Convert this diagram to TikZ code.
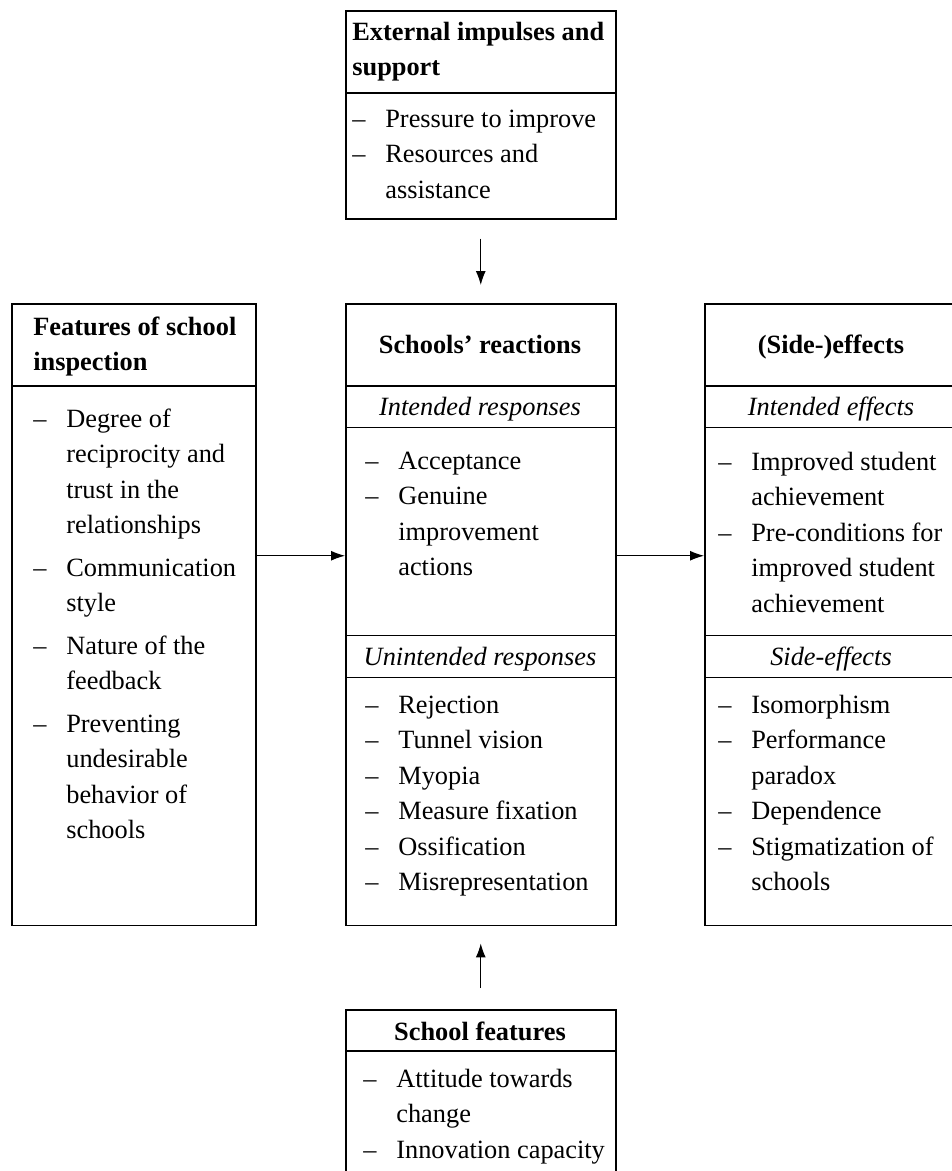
\documentclass[tikz,border=0pt]{standalone}
\usepackage{fontspec}
\setmainfont{Liberation Serif}
\usetikzlibrary{arrows.meta}

\newcommand{\itemdash}{\strut\makebox[0.66cm][l]{--}}
\newcommand{\itemcont}{\hspace*{0.66cm}}

\begin{document}
\begin{tikzpicture}[x=0.02cm, y=-0.02cm,
    box/.style={draw, line width=0.9pt, rectangle, inner sep=0pt, anchor=north west},
    lst/.style={inner sep=0pt, align=left, anchor=north west, font=\fontsize{15pt}{20.2pt}\selectfont},
    hd/.style={inner sep=0pt, align=left, anchor=north west, font=\fontsize{15pt}{20.2pt}\selectfont\bfseries},
    hdc/.style={inner sep=0pt, anchor=base, font=\fontsize{15pt}{20.2pt}\selectfont\bfseries},
    sub/.style={inner sep=0pt, anchor=base, font=\fontsize{15pt}{20.2pt}\selectfont\itshape},
    arr/.style={line width=0.6pt, -{Latex[length=0.28cm, width=0.2cm]}}]
    \useasboundingbox (0,0) rectangle (952,1171);
    \clip (0,0) rectangle (952,1171);

    % External impulses (top)
    \node[box, minimum width=5.4cm, minimum height=4.16cm] (ext) at (345,10) {};
    \draw[line width=0.9pt] (345,93) -- (615,93);
    \node[hd] (exthd) at (352,15) {\strut External impulses and\\support};
    \node[lst] (extlst) at (352,102) {\itemdash Pressure to improve\\
        \itemdash Resources and\\ \itemcont assistance};

    % Features of school inspection (left)
    \node[box, minimum width=4.88cm, minimum height=12.44cm] (insp) at (11,303) {};
    \draw[line width=0.9pt] (11,386) -- (255,386);
    \node[hd] (insphd) at (33,310) {\strut Features of school\\inspection};
    \node[lst] (insplst) at (33,402) {\itemdash Degree of\\ \itemcont reciprocity and\\
        \itemcont trust in the\\ \itemcont relationships\\[4pt]
        \itemdash Communication\\ \itemcont style\\[4pt]
        \itemdash Nature of the\\ \itemcont feedback\\[4pt]
        \itemdash Preventing\\ \itemcont undesirable\\ \itemcont behavior of\\ \itemcont schools};

    % Schools' reactions (center)
    \node[box, minimum width=5.4cm, minimum height=12.44cm] (react) at (345,303) {};
    \draw[line width=0.9pt] (345,386) -- (615,386);
    \draw[line width=0.5pt] (345,427) -- (615,427);
    \draw[line width=0.5pt] (345,635) -- (615,635);
    \draw[line width=0.5pt] (345,677) -- (615,677);
    \node[hdc] (reacthd) at (480,353) {Schools' reactions};
    \node[sub] (intresp) at (480,415) {Intended responses};
    \node[lst] (intlst) at (365,444) {\itemdash Acceptance\\
        \itemdash Genuine\\ \itemcont improvement\\ \itemcont actions};
    \node[sub] (unresp) at (480,665) {Unintended responses};
    \node[lst] (unlst) at (365,688) {\itemdash Rejection\\ \itemdash Tunnel vision\\
        \itemdash Myopia\\ \itemdash Measure fixation\\ \itemdash Ossification\\
        \itemdash Misrepresentation};

    % (Side-)effects (right)
    \node[box, minimum width=5.08cm, minimum height=12.44cm] (eff) at (704,303) {};
    \draw[line width=0.9pt] (704,386) -- (958,386);
    \draw[line width=0.5pt] (704,427) -- (958,427);
    \draw[line width=0.5pt] (704,635) -- (958,635);
    \draw[line width=0.5pt] (704,677) -- (958,677);
    \node[hdc] (effhd) at (831,353) {(Side-)effects};
    \node[sub] (inteff) at (831,415) {Intended effects};
    \node[lst] (intefflst) at (718,445) {\itemdash Improved student\\ \itemcont achievement\\
        \itemdash Pre-conditions for\\ \itemcont improved student\\ \itemcont achievement};
    \node[sub] (sideeff) at (831,665) {Side-effects};
    \node[lst] (sidelst) at (718,688) {\itemdash Isomorphism\\ \itemdash Performance\\
        \itemcont paradox\\ \itemdash Dependence\\ \itemdash Stigmatization of\\
        \itemcont schools};

    % School features (bottom)
    \node[box, minimum width=5.4cm, minimum height=4.0cm] (feat) at (345,1009) {};
    \draw[line width=0.9pt] (345,1051) -- (615,1051);
    \node[hdc] (feathd) at (480,1040) {School features};
    \node[lst] (featlst) at (363,1062) {\itemdash Attitude towards\\ \itemcont change\\
        \itemdash Innovation capacity};

    % Arrows
    \draw[arr, shorten <=0.38cm, shorten >=0.36cm] (ext.south) -- (react.north);
    \draw[arr, shorten <=0.42cm, shorten >=0.34cm] (feat.north) -- (react.south);
    \draw[arr] ([yshift=1.18cm]insp.east) -- ([yshift=1.18cm]react.west);
    \draw[arr] ([yshift=1.18cm]react.east) -- ([yshift=1.18cm]eff.west);
\end{tikzpicture}
\end{document}
